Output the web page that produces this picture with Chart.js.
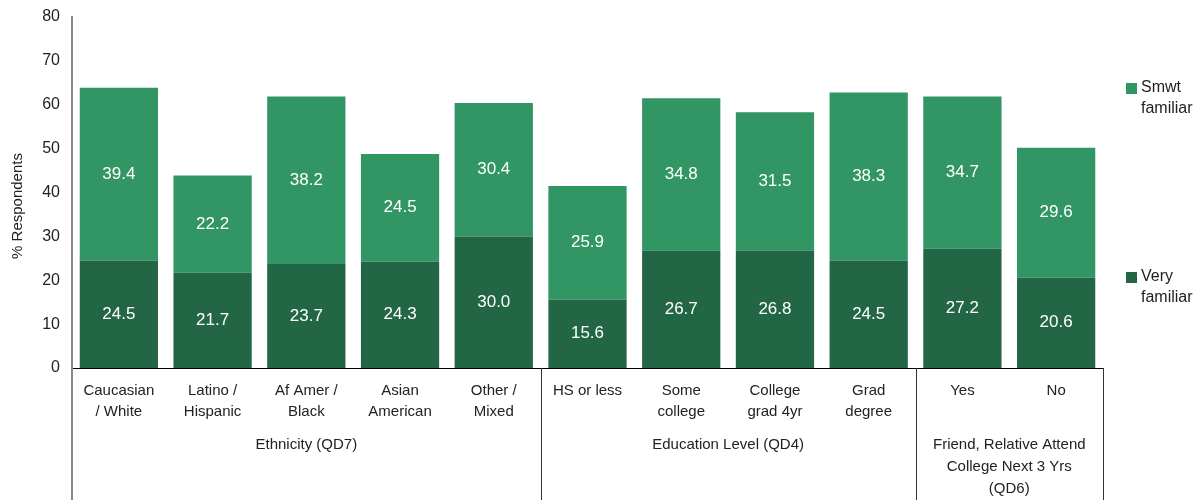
<!DOCTYPE html>
<html>
<head>
<meta charset="utf-8">
<script src="https://cdn.jsdelivr.net/npm/chart.js@4/dist/chart.umd.min.js"></script>
<style>
html,body{margin:0;padding:0;background:#fff;}
#wrap{width:1202px;height:500px;position:relative;}
</style>
</head>
<body>
<div id="wrap"><canvas id="c" width="1202" height="500"></canvas></div>
<script>
const categories = [
  ["Caucasian", "/ White"],
  ["Latino /", "Hispanic"],
  ["Af Amer /", "Black"],
  ["Asian", "American"],
  ["Other /", "Mixed"],
  ["HS or less"],
  ["Some", "college"],
  ["College", "grad 4yr"],
  ["Grad", "degree"],
  ["Yes"],
  ["No"]
];
const veryFamiliar = [24.5, 21.7, 23.7, 24.3, 30.0, 15.6, 26.7, 26.8, 24.5, 27.2, 20.6];
const smwtFamiliar = [39.4, 22.2, 38.2, 24.5, 30.4, 25.9, 34.8, 31.5, 38.3, 34.7, 29.6];
const groupNames = [
  ["Ethnicity (QD7)"],
  ["Education Level (QD4)"],
  ["Friend, Relative Attend", "College Next 3 Yrs", "(QD6)"]
];
const groupStarts = [0, 5, 9];
const groupEnds = [4, 8, 10];
const seriesNames = ["Very familiar", "Smwt familiar"];
const yTicks = [0, 10, 20, 30, 40, 50, 60, 70, 80];
const yTitle = "% Respondents";

const FONT = "'Liberation Sans', Arial, sans-serif";
const DARK = "#236645";
const LIGHT = "#329564";

const extrasPlugin = {
  id: 'extras',
  afterDatasetsDraw(chart) {
    const ctx = chart.ctx;
    ctx.save();
    ctx.fillStyle = '#ffffff';
    ctx.font = "17px " + FONT;
    ctx.textAlign = 'center';
    ctx.textBaseline = 'middle';
    chart.data.datasets.forEach((ds, di) => {
      const meta = chart.getDatasetMeta(di);
      meta.data.forEach((bar, i) => {
        const y = (bar.y + bar.base) / 2;
        ctx.fillText(Number(ds.data[i]).toFixed(1), bar.x, y);
      });
    });
    ctx.restore();
  },
  afterDraw(chart) {
    const ctx = chart.ctx;
    const xs = chart.scales.x;
    const area = chart.chartArea;
    const H = chart.height;
    ctx.save();
    ctx.strokeStyle = '#8a8a8a';
    ctx.lineWidth = 2;
    ctx.beginPath();
    ctx.moveTo(area.left, area.bottom);
    ctx.lineTo(area.left, H);
    ctx.stroke();
    ctx.strokeStyle = '#333333';
    ctx.lineWidth = 1;
    const half = (xs.getPixelForValue(1) - xs.getPixelForValue(0)) / 2;
    groupEnds.forEach((e) => {
      const x = Math.round(xs.getPixelForValue(e) + half) + 0.5;
      ctx.beginPath();
      ctx.moveTo(x, area.bottom);
      ctx.lineTo(x, H);
      ctx.stroke();
    });
    ctx.fillStyle = '#222222';
    ctx.font = "15px " + FONT;
    ctx.textAlign = 'center';
    ctx.textBaseline = 'middle';
    groupNames.forEach((lines, g) => {
      const x0 = xs.getPixelForValue(groupStarts[g]) - half;
      const x1 = xs.getPixelForValue(groupEnds[g]) + half;
      const cx = (x0 + x1) / 2;
      lines.forEach((t, k) => {
        ctx.fillText(t, cx, 445 + k * 22);
      });
    });
    // y axis title
    ctx.save();
    ctx.translate(18, 206);
    ctx.rotate(-Math.PI / 2);
    ctx.font = "15px " + FONT;
    ctx.fillText(yTitle, 0, 0);
    ctx.restore();
    // legend
    const lx = 1126;
    const legend = [
      { color: LIGHT, lines: ["Smwt", "familiar"], y: 88 },
      { color: DARK, lines: ["Very", "familiar"], y: 277 }
    ];
    ctx.textAlign = 'left';
    ctx.font = "16px " + FONT;
    legend.forEach((L) => {
      ctx.fillStyle = L.color;
      ctx.fillRect(lx, L.y - 5, 11, 11);
      ctx.fillStyle = '#222222';
      L.lines.forEach((t, k) => ctx.fillText(t, lx + 15, L.y + k * 21));
    });
    ctx.restore();
  }
};

new Chart(document.getElementById('c'), {
  type: 'bar',
  data: {
    labels: categories,
    datasets: [
      { label: seriesNames[0], data: veryFamiliar, backgroundColor: DARK, borderWidth: 0 },
      { label: seriesNames[1], data: smwtFamiliar, backgroundColor: LIGHT, borderWidth: 0 }
    ]
  },
  options: {
    responsive: false,
    animation: false,
    events: [],
    layout: { padding: { left: 0, right: 99, top: 17, bottom: 0 } },
    plugins: { legend: { display: false }, tooltip: { enabled: false } },
    datasets: { bar: { categoryPercentage: 1.0, barPercentage: 0.835 } },
    scales: {
      x: {
        stacked: true,
        grid: { display: false, drawTicks: false },
        border: { display: true, color: '#000000', width: 1 },
        ticks: {
          color: '#222222',
          font: { family: FONT, size: 15, lineHeight: 1.4 },
          padding: 12,
          maxRotation: 0,
          autoSkip: false
        },
        afterFit(scale) { scale.height = 132; scale.paddingLeft = 0; scale.paddingRight = 0; }
      },
      y: {
        stacked: true,
        min: 0,
        max: 80,
        afterBuildTicks(scale) { scale.ticks = yTicks.map(v => ({ value: v })); },
        grid: { display: false, drawTicks: false },
        border: { display: true, color: '#8a8a8a', width: 2 },
        ticks: {
          color: '#222222',
          font: { family: FONT, size: 16 },
          padding: 12
        },
        afterFit(scale) { scale.width = 72; scale.paddingTop = 0; scale.paddingBottom = 0; }
      }
    }
  },
  plugins: [extrasPlugin]
});
</script>
</body>
</html>
